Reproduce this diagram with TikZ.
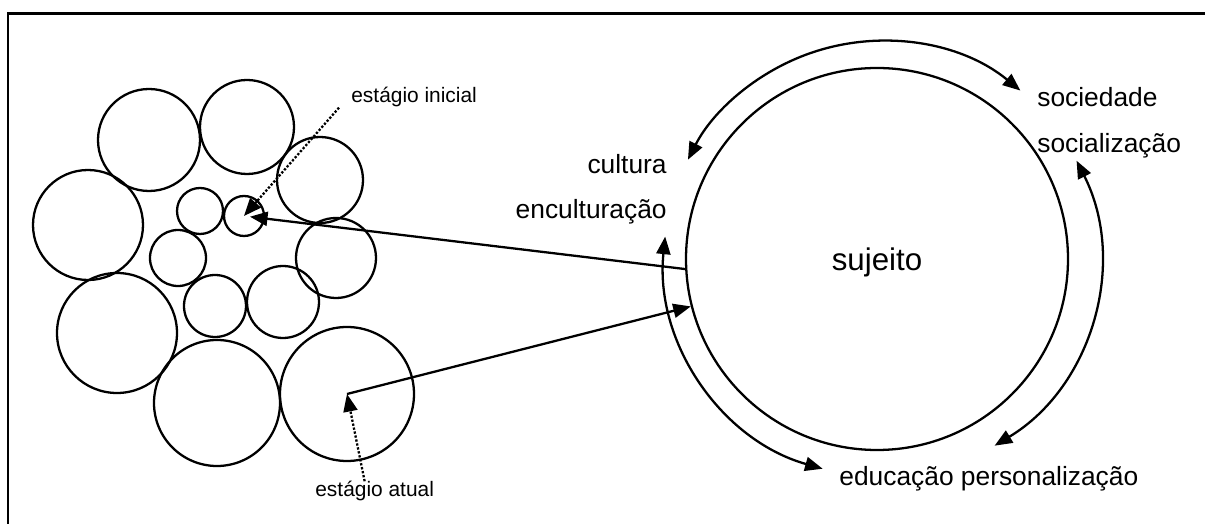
\documentclass[tikz,border=0pt]{standalone}
\usepackage{fontspec}
\setmainfont{Liberation Sans}
\usetikzlibrary{arrows.meta}

\begin{document}
\begin{tikzpicture}[
    ball/.style={circle, draw, line width=1.3pt, inner sep=0pt},
    lbl/.style={font=\fontsize{15pt}{18pt}\selectfont, inner sep=0pt},
    note/.style={font=\fontsize{11.9pt}{14pt}\selectfont, inner sep=0pt},
    arrow/.style={-{Triangle[length=10pt, width=8pt]}, line width=1.3pt},
    dotarrow/.style={-{Triangle[length=10pt, width=8pt]}, line width=1.3pt, densely dotted},
    roundarrow/.style={{Triangle[length=10pt, width=8pt]}-{Triangle[length=10pt, width=8pt]}, line width=1.3pt}
]
    \useasboundingbox (0,0) rectangle (24.1,10.48);
    \clip (0,0) rectangle (24.1,10.48);
    \draw[line width=1.3pt] (0.16,-1) |- (25,10.21);

    % stages
    \node[ball, minimum size=2.04cm] (s1) at (2.98,7.68) {};
    \node[ball, minimum size=1.88cm] (s2) at (4.94,7.94) {};
    \node[ball, minimum size=1.72cm] (s3) at (6.40,6.88) {};
    \node[ball, minimum size=2.20cm] (s4) at (1.76,5.98) {};
    \node[ball, minimum size=0.92cm] (s5) at (4.00,6.26) {};
    \node[ball, minimum size=0.80cm] (ini) at (4.88,6.16) {};
    \node[ball, minimum size=1.12cm] (s7) at (3.56,5.32) {};
    \node[ball, minimum size=1.60cm] (s8) at (6.72,5.32) {};
    \node[ball, minimum size=2.40cm] (s9) at (2.34,3.82) {};
    \node[ball, minimum size=1.24cm] (s10) at (4.30,4.36) {};
    \node[ball, minimum size=1.44cm] (s11) at (5.66,4.44) {};
    \node[ball, minimum size=2.52cm] (s12) at (4.34,2.42) {};
    \node[ball, minimum size=2.68cm] (atual) at (6.94,2.60) {};

    \node[note, anchor=base west] (inicial) at (7.02,8.42) {estágio inicial};
    \node[note, anchor=base west] (agora) at (6.30,0.54) {estágio atual};

    % subject
    \node[ball, minimum size=7.64cm, text depth=0pt, font=\fontsize{17.8pt}{20pt}\selectfont] (suj) at (17.54,5.30) {sujeito};
    \coordinate (ring) at (17.64,5.30);

    \node[lbl, anchor=base east] (cult) at (13.34,7.00) {cultura};
    \node[lbl, anchor=base east] (encult) at (13.34,6.10) {enculturação};
    \node[lbl, anchor=base west] (soc) at (20.74,8.34) {sociedade};
    \node[lbl, anchor=base west] (socz) at (20.74,7.42) {socialização};
    \node[lbl, anchor=base west] (edu) at (16.78,0.76) {educação personalização};

    \draw[roundarrow] ([shift={(50.6:4.36)}]ring) arc[start angle=50.6, end angle=152.9, radius=4.36];
    \draw[roundarrow] ([shift={(26.8:4.36)}]ring) arc[start angle=26.8, end angle=-58.9, radius=4.36];
    \draw[roundarrow] ([shift={(174.1:4.36)}]ring) arc[start angle=174.1, end angle=254.2, radius=4.36];

    \draw[arrow, shorten >=0.12cm] (suj.183) -- (ini.center);
    \draw[arrow] (atual.center) -- (suj);
    \draw[dotarrow] ([xshift=-0.24cm]inicial.south west) -- (ini.center);
    \draw[dotarrow] ([xshift=-0.2cm]agora.north) -- (atual.center);
\end{tikzpicture}
\end{document}
